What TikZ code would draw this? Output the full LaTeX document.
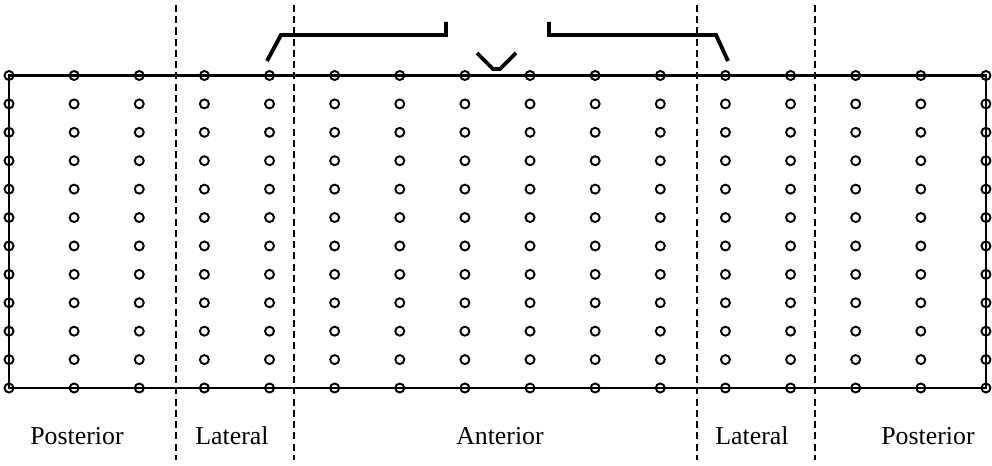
\documentclass[tikz,border=0pt]{standalone}
\usepackage{fontspec}
\setmainfont{Liberation Serif}
\begin{document}
\begin{tikzpicture}[
    x=0.02cm, y=-0.02cm,
    dot/.style={
        draw,
        circle,
        inner sep=0pt,
        minimum size=0.18cm,
        line width=1.1pt
    },
    frame/.style={
        line width=1.4pt
    },
    divider/.style={
        line width=1.2pt,
        dash pattern=on 4pt off 2.4pt
    },
    bracket/.style={
        line width=2.2pt
    },
    region/.style={
        font=\fontsize{14.7}{17}\selectfont,
        anchor=base
    }
]
\useasboundingbox (0,0) rectangle (992,466);

% Region dividers
\foreach \xd in {176, 294, 697, 815}
  \draw[divider] (\xd,5) -- (\xd,460);

% Grid of points: 16 columns, 12 rows
\foreach \i in {0,...,15}
  \foreach \j in {0,...,11}
    \node[dot] (c-\i-\j) at ({9+65.13*\i},{75.5+28.41*\j}) {};

% Outline through the corner points
\draw[frame] (c-0-0.center) -- (c-15-0.center) -- (c-15-11.center)
             -- (c-0-11.center) -- cycle;

% Top bracket and notch
\draw[bracket] (267,61) -- (281,35) -- (446,35) -- (446,22);
\draw[bracket] (549,22) -- (549,35) -- (716,35) -- (728,61);
\draw[bracket] (477,53) -- (493,69) -- (500,69) -- (516,53);

% Region labels
\node[region] (post-l) at (77,444)  {Posterior};
\node[region] (lat-l)  at (232,444) {Lateral};
\node[region] (ant)    at (500,444) {Anterior};
\node[region] (lat-r)  at (752,444) {Lateral};
\node[region] (post-r) at (928,444) {Posterior};

\end{tikzpicture}
\end{document}
